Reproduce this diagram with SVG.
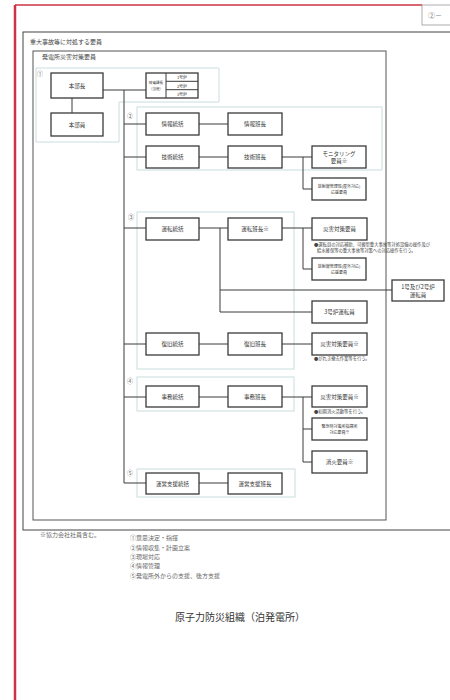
<svg xmlns="http://www.w3.org/2000/svg" width="450" height="700" viewBox="0 0 450 700">
<style>
.bx{fill:#fff;stroke:#3a3a3a;stroke-width:1.3}
.sec{fill:none;stroke:#c5dada;stroke-width:0.9}
.t{font-family:"Noto Sans CJK JP","Noto Sans",sans-serif;font-size:5.5px;fill:#333;text-anchor:middle}
.s{font-family:"Noto Sans CJK JP","Noto Sans",sans-serif;font-size:4px;fill:#333;text-anchor:middle}
.n{font-family:"Noto Sans CJK JP","Noto Sans",sans-serif;font-size:4.3px;fill:#444}
.l{font-family:"Noto Sans CJK JP","Noto Sans",sans-serif;font-size:6px;fill:#444}
.c{font-family:"Noto Sans CJK JP","Noto Sans",sans-serif;font-size:6px;fill:#666}
.ln{fill:none;stroke:#3a3a3a;stroke-width:1}
</style>
<rect width="450" height="700" fill="#fff"/>
<g id="frame">
<line x1="15" y1="5" x2="15" y2="700" stroke="#cc3344" stroke-width="2.5"/>
<line x1="15" y1="5" x2="422" y2="5" stroke="#cc3344" stroke-width="1.5"/>
<rect x="422" y="5" width="32" height="20" fill="#fff" stroke="#999" stroke-width="0.8"/>
<text x="428" y="18" class="l" style="font-size:7px;fill:#777">②－</text>
<rect x="23" y="32" width="440" height="498" fill="none" stroke="#444" stroke-width="1"/>
<text x="30" y="44" class="l">重大事故等に対処する要員</text>
<rect x="33" y="51" width="353" height="469" fill="none" stroke="#555" stroke-width="1"/>
<text x="42" y="59" class="l">発電所災害対策要員</text>
</g>
<g id="sections">
<path class="sec" d="M36,68 H219 V102 H119 V142 H36 Z"/>
<rect class="sec" x="137" y="107" width="245" height="63"/>
<rect class="sec" x="137" y="212" width="157" height="157"/>
<rect class="sec" x="137" y="377" width="157" height="34"/>
<rect class="sec" x="137" y="469" width="158" height="28"/>
<text x="37" y="76" class="c">①</text>
<text x="127" y="118" class="c">②</text>
<text x="128" y="219" class="c">③</text>
<text x="127" y="383" class="c">④</text>
<text x="127" y="475" class="c">⑤</text>
</g>
<g id="connectors">
<path class="ln" d="M72,98 V113"/>
<path class="ln" d="M103,90 H146"/>
<path class="ln" d="M124,90 V483"/>
<path class="ln" d="M124,124 H146 M124,157 H146 M124,228 H146 M124,344 H146 M124,397 H146 M124,483 H146"/>
<path class="ln" d="M199,124 H228 M199,157 H228 M199,228 H228 M199,344 H228 M199,397 H228 M199,483 H228"/>
<path class="ln" d="M282,157 H312 M303,157 V189 H312"/>
<path class="ln" d="M282,228 H312 M303,228 V269 H312"/>
<path class="ln" d="M220,228 V312 H312 M220,290 H392"/>
<path class="ln" d="M282,344 H312"/>
<path class="ln" d="M282,397 H312 M303,397 V462 H312 M303,429 H312"/>
</g>
<g id="honbucho"><rect class="bx" x="51" y="73" width="52" height="25"/><text class="t" x="77" y="87.5">本部長</text></g>
<g id="honbuin"><rect class="bx" x="51" y="113" width="52" height="23"/><text class="t" x="77" y="126.5">本部員</text></g>
<g id="tochoku">
<rect class="bx" x="146" y="73" width="52" height="25"/>
<path class="ln" d="M166,73 V98 M166,81.3 H198 M166,89.7 H198" stroke-width="0.8"/>
<text class="s" x="156" y="84" style="font-size:3.6px">発電課長</text>
<text class="s" x="156" y="89.5" style="font-size:3.6px">(当直)</text>
<text class="s" x="182" y="79">1号炉</text>
<text class="s" x="182" y="87.5">2号炉</text>
<text class="s" x="182" y="95.5">3号炉</text>
</g>
<g id="joho-tokatsu"><rect class="bx" x="146" y="113" width="53" height="22"/><text class="t" x="172.5" y="126">情報統括</text></g>
<g id="joho-hancho"><rect class="bx" x="228" y="113" width="54" height="22"/><text class="t" x="255" y="126">情報班長</text></g>
<g id="gijutsu-tokatsu"><rect class="bx" x="146" y="146" width="53" height="22"/><text class="t" x="172.5" y="159">技術統括</text></g>
<g id="gijutsu-hancho"><rect class="bx" x="228" y="146" width="54" height="22"/><text class="t" x="255" y="159">技術班長</text></g>
<g id="monitoring"><rect class="bx" x="312" y="146" width="54" height="22"/><text class="t" x="339" y="155.5">モニタリング</text><text class="t" x="339" y="163">要員※</text></g>
<g id="hoshasen1"><rect class="bx" x="312" y="178" width="54" height="22"/><text class="s" x="339" y="187.5">放射線管理班(屋外対応)</text><text class="s" x="339" y="193.5">応援要員</text></g>
<g id="unten-tokatsu"><rect class="bx" x="146" y="218" width="53" height="22"/><text class="t" x="172.5" y="231">運転統括</text></g>
<g id="unten-hancho"><rect class="bx" x="228" y="218" width="54" height="22"/><text class="t" x="255" y="231">運転班長※</text></g>
<g id="saigai1"><rect class="bx" x="312" y="218" width="55" height="22"/><text class="t" x="339.5" y="231">災害対策要員</text>
<text class="n" x="314" y="246">●運転員の対応補助、可搬型重大事故等対処設備の操作及び</text>
<text class="n" x="317" y="252">給水確保等の重大事故等対策への対応操作を行う。</text></g>
<g id="hoshasen2"><rect class="bx" x="312" y="258" width="54" height="22"/><text class="s" x="339" y="267.5">放射線管理班(屋外対応)</text><text class="s" x="339" y="273.5">応援要員</text></g>
<g id="unten-12"><rect class="bx" x="392" y="280" width="52" height="21"/><text class="t" x="418" y="289">1号及び2号炉</text><text class="t" x="418" y="296.5">運転員</text></g>
<g id="unten-3"><rect class="bx" x="312" y="301" width="55" height="22"/><text class="t" x="339.5" y="314">3号炉運転員</text></g>
<g id="fukkyu-tokatsu"><rect class="bx" x="146" y="333" width="53" height="22"/><text class="t" x="172.5" y="346">復旧統括</text></g>
<g id="fukkyu-hancho"><rect class="bx" x="228" y="333" width="54" height="22"/><text class="t" x="255" y="346">復旧班長</text></g>
<g id="saigai2"><rect class="bx" x="312" y="333" width="55" height="22"/><text class="t" x="339.5" y="346">災害対策要員※</text>
<text class="n" x="314" y="360">●がれき撤去作業等を行う。</text></g>
<g id="jimu-tokatsu"><rect class="bx" x="146" y="386" width="53" height="21"/><text class="t" x="172.5" y="398.5">事務統括</text></g>
<g id="jimu-hancho"><rect class="bx" x="228" y="386" width="54" height="21"/><text class="t" x="255" y="398.5">事務班長</text></g>
<g id="saigai3"><rect class="bx" x="312" y="386" width="55" height="21"/><text class="t" x="339.5" y="398.5">災害対策要員※</text>
<text class="n" x="314" y="413">●初期消火活動等を行う。</text></g>
<g id="kinkyu"><rect class="bx" x="312" y="418" width="55" height="22"/><text class="s" x="339.5" y="427.5">緊急時対策所指揮所</text><text class="s" x="339.5" y="433.5">対応要員※</text></g>
<g id="shoka"><rect class="bx" x="312" y="451" width="55" height="22"/><text class="t" x="339.5" y="464">消火要員※</text></g>
<g id="unei-tokatsu"><rect class="bx" x="146" y="473" width="53" height="21"/><text class="t" x="172.5" y="485.5">運営支援統括</text></g>
<g id="unei-hancho"><rect class="bx" x="228" y="473" width="54" height="21"/><text class="t" x="255" y="485.5">運営支援班長</text></g>
<g id="notes">
<text class="c" x="40" y="537">※協力会社社員含む。</text>
<text class="c" x="130" y="540">①意思決定・指揮</text>
<text class="c" x="130" y="550">②情報収集・計画立案</text>
<text class="c" x="130" y="559">③現場対応</text>
<text class="c" x="130" y="568">④情報管理</text>
<text class="c" x="130" y="578">⑤発電所外からの支援、後方支援</text>
</g>
<text x="240" y="621" style="font-family:'Noto Sans CJK JP',serif;font-size:10px;fill:#333;text-anchor:middle">原子力防災組織（泊発電所）</text>
</svg>
